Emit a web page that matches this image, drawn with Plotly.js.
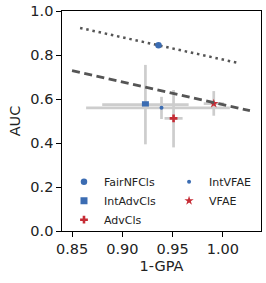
<!DOCTYPE html>
<html><head><meta charset="utf-8">
<script src="https://cdn.plot.ly/plotly-3.0.1.min.js"></script>
<style>html,body{margin:0;padding:0;background:#fff}#chart{width:266px;height:283px}</style>
</head><body><div id="chart"></div>
<script>
const names = ['FairNFCls','IntAdvCls','AdvCls','IntVFAE','VFAE'];
const gpa = [0.936, 0.923, 0.951, 0.939, 0.991];
const auc = [0.844, 0.574, 0.512, 0.560, 0.579];
const gpaErrPlus = [0, 0.043, 0.009, 0.068, 0.010];
const gpaErrMinus = [0, 0.043, 0.009, 0.075, 0.010];
const aucErrPlus = [0, 0.181, 0.129, 0.050, 0.057];
const aucErrMinus = [0, 0.180, 0.132, 0.051, 0.055];
const symbols = ['circle','square','cross','circle','star'];
const sizes = [6.5, 7, 6.5, 4, 7];
const colors = ['#3b6cb2','#3b6cb2','#c62c35','#3b6cb2','#c62c35'];
const legendGroup = ['legend','legend','legend','legend2','legend2'];
const dottedX = [0.858, 1.017], dottedY = [0.923, 0.762];
const dashedX = [0.850, 1.027], dashedY = [0.729, 0.547];

const font = 'DejaVu Sans, sans-serif';
const traces = [];
traces.push({x: dottedX, y: dottedY, mode: 'lines', showlegend: false,
  line: {color: '#555555', width: 2.5, dash: '2.5px,3.8px'}});
for (let i = 0; i < names.length; i++) {
  traces.push({
    x: [gpa[i]], y: [auc[i]], name: names[i], mode: 'markers', legend: legendGroup[i],
    marker: {symbol: symbols[i], size: sizes[i], color: colors[i]},
    error_x: {type: 'data', symmetric: false, array: [gpaErrPlus[i]], arrayminus: [gpaErrMinus[i]],
      color: '#cdcdcd', thickness: 2.7, width: 0, visible: gpaErrPlus[i] > 0},
    error_y: {type: 'data', symmetric: false, array: [aucErrPlus[i]], arrayminus: [aucErrMinus[i]],
      color: '#cdcdcd', thickness: 2.7, width: 0, visible: aucErrPlus[i] > 0}
  });
}
traces.push({x: dashedX, y: dashedY, mode: 'lines', showlegend: false,
  line: {color: '#555555', width: 2.8, dash: '8px,4.5px'}});

const legendBase = {yanchor: 'top', xanchor: 'left', y: 0.29, bgcolor: 'rgba(0,0,0,0)',
  font: {size: 11}, itemwidth: 30, tracegroupgap: 0, traceorder: 'normal'};
const layout = {
  width: 266, height: 283,
  margin: {l: 62, r: 5, t: 11, b: 52},
  paper_bgcolor: '#fff', plot_bgcolor: '#fff',
  font: {family: font, size: 14.5, color: '#222'},
  xaxis: {range: [0.840, 1.038], tickvals: [0.85, 0.90, 0.95, 1.00], tickformat: '.2f',
    showgrid: false, zeroline: false, showline: true, mirror: true, linecolor: '#000', linewidth: 1.2,
    ticks: 'outside', ticklen: 4.5, tickcolor: '#000', tickwidth: 1,
    title: {text: '1-GPA', font: {size: 14.5}, standoff: 4}},
  yaxis: {range: [0, 1], tickvals: [0, 0.2, 0.4, 0.6, 0.8, 1.0], tickformat: '.1f',
    showgrid: false, zeroline: false, showline: true, mirror: true, linecolor: '#000', linewidth: 1.2,
    ticks: 'outside', ticklen: 4.5, tickcolor: '#000', tickwidth: 1,
    title: {text: 'AUC', font: {size: 14.5}, standoff: 6}},
  legend: Object.assign({}, legendBase, {x: 0.01}),
  legend2: Object.assign({}, legendBase, {x: 0.538}),
  showlegend: true
};
Plotly.newPlot('chart', traces, layout, {displayModeBar: false, staticPlot: true});
</script></body></html>
